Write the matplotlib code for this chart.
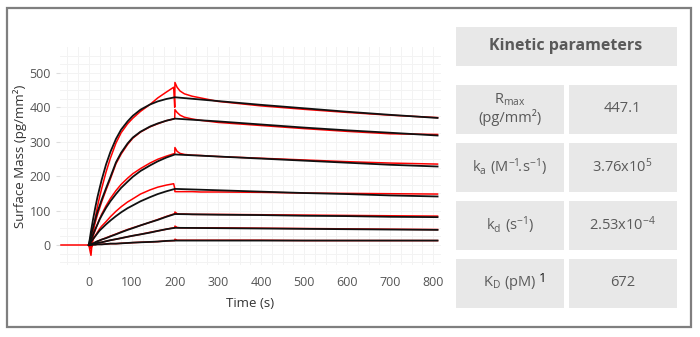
import matplotlib
matplotlib.use('Agg')
import matplotlib.pyplot as plt
from matplotlib.patches import Rectangle
import numpy as np

plt.rcParams['font.family'] = ['Open Sans', 'DejaVu Sans']
plt.rcParams['mathtext.fontset'] = 'custom'
plt.rcParams['mathtext.rm'] = 'Open Sans'
plt.rcParams['mathtext.it'] = 'Open Sans'

# fitted curves (black)
fit_t = [0, 5, 10, 15, 20, 25, 30, 40, 50, 63, 75, 90, 102, 120, 142, 160, 180, 200,
         300, 400, 500, 600, 700, 810]
fit_1 = [0, 40, 76, 109, 139, 165, 190, 234, 270, 308, 335, 359, 375, 393, 408, 417, 424, 429,
         418, 407, 397, 387, 378, 369]
fit_2 = [0, 27, 52, 75, 96, 114, 132, 165, 197, 240, 268, 295, 312, 329, 344, 353, 361, 367,
         359, 350, 341, 333, 326, 318]
fit_3 = [0, 16, 31, 46, 60, 74, 86, 108, 127, 148, 166, 184, 198, 215, 231, 243, 254, 263,
         257, 251, 245, 239, 233, 228]
fit_4 = [0, 9, 18, 26, 34, 42, 48, 60, 71, 84, 95, 107, 115, 127, 139, 148, 156, 163,
         159, 155, 151, 148, 144, 141]
fit_5 = [0, 3, 5, 8, 11, 13, 16, 20, 25, 31, 37, 44, 49, 57, 66, 73, 82, 90,
         88, 87, 85, 84, 82, 81]
fit_6 = [0, 1, 3, 4, 6, 7, 8, 11, 14, 17, 20, 24, 27, 31, 36, 41, 46, 50,
         49, 48, 47, 46, 45, 44]
fit_7 = [0, 0, 1, 1, 2, 2, 2, 3, 4, 4, 5, 6, 7, 8, 9, 10, 12, 13,
         13, 13, 13, 13, 13, 13]
fits = [fit_1, fit_2, fit_3, fit_4, fit_5, fit_6, fit_7]

# measured curves (red)
red_t = [0, 5, 10, 15, 20, 25, 30, 40, 50, 63, 75, 90, 102, 120, 142, 160, 180, 197,
         199.5, 200, 205, 212, 222, 240, 260, 300, 400, 500, 600, 700, 810]
red_1 = [0, -30, 40, 80, 112, 140, 165, 212, 252, 296, 326, 352, 368, 388, 408, 427, 444, 458,
         400, 472, 458, 447, 439, 432, 427, 417, 404, 394, 385, 377, 370]
red_2 = [0, -8, 40, 66, 88, 107, 126, 160, 192, 236, 264, 292, 310, 328, 343, 352, 361, 366,
         368, 393, 385, 377, 371, 366, 362, 356, 347, 338, 330, 323, 321]
red_3 = [0, -10, 26, 44, 60, 76, 90, 114, 135, 158, 176, 194, 207, 222, 238, 249, 258, 265,
         265, 283, 272, 266, 263, 261, 260, 257, 252, 247, 242, 238, 235]
red_4 = [0, -10, 16, 26, 37, 47, 55, 68, 82, 98, 111, 125, 134, 148, 160, 168, 174, 178,
         165, 155, 155, 155, 155, 155, 154, 154, 153, 151, 150, 149, 148]
red_5 = [0, -8, 3, 8, 11, 14, 16, 21, 26, 32, 38, 45, 50, 57, 66, 74, 83, 90,
         90, 96, 91, 90, 90, 89, 89, 89, 88, 87, 86, 85, 84]
red_6 = [0, -6, 2, 4, 6, 7, 8, 11, 14, 17, 20, 24, 27, 31, 37, 41, 46, 50,
         50, 55, 51, 50, 50, 50, 50, 50, 49, 48, 47, 46, 45]
red_7 = [0, -4, 1, 1, 2, 2, 2, 3, 4, 4, 5, 6, 7, 8, 9, 10, 12, 13,
         13, 17, 14, 14, 14, 14, 14, 14, 14, 13, 13, 13, 13]
reds = [red_1, red_2, red_3, red_4, red_5, red_6, red_7]
baseline_t = [-65, 0]
baseline_v = [0, 0]

x_ticks = [0, 100, 200, 300, 400, 500, 600, 700, 800]
y_ticks = [0, 100, 200, 300, 400, 500]

table_title = 'Kinetic parameters'
param_names = [r'$\mathregular{R_{max}}$' + '\n(pg/mm²)',
               r'$\mathregular{k_a\ (M^{-1}\!.\!s^{-1})}$',
               r'$\mathregular{k_d\ (s^{-1})}$',
               r'$\mathregular{K_D\ (pM)}$']
param_values = ['447.1', r'$\mathregular{3.76x10^5}$',
                r'$\mathregular{2.53x10^{-4}}$', '672']

fig = plt.figure(figsize=(7, 3.37), dpi=100)

# overlay for frame and table, in pixel coords
bg = fig.add_axes([0, 0, 1, 1])
bg.set_xlim(0, 700)
bg.set_ylim(337, 0)
bg.axis('off')
bg.add_patch(Rectangle((7, 8), 684, 319, fill=False, ec='#7f7f7f', lw=1.6))

cell = '#e8e8e8'
txt = '#5a5a5a'
bg.add_patch(Rectangle((456, 27), 221, 39, fc=cell, ec='none'))
bg.text(566, 46.5, table_title, ha='center', va='center', fontsize=11.5,
        fontweight='bold', color=txt)
row_tops = [85, 143, 201, 259]
for i, top in enumerate(row_tops):
    bg.add_patch(Rectangle((456, top), 108, 48.5, fc=cell, ec='none'))
    bg.add_patch(Rectangle((568.5, top), 108, 48.5, fc=cell, ec='none'))
    bg.text(510, top + 24, param_names[i], ha='center', va='center',
            fontsize=10.5, color=txt, linespacing=1.1)
    bg.text(622.5, top + 24, param_values[i], ha='center', va='center',
            fontsize=10.5, color=txt)
bg.text(539, 278, '1', ha='left', va='center', fontsize=9.5, color='#111111')

ax = fig.add_axes([0.0857, 0.2136, 0.5443, 0.647])
ax.set_xlim(-67, 818)
ax.set_ylim(-58, 575)
ax.set_xticks(x_ticks)
ax.set_yticks(y_ticks)
ax.set_xticks(np.arange(-50, 818, 25), minor=True)
ax.set_yticks(np.arange(-50, 575, 25), minor=True)
ax.grid(True, which='both', color='#f3f3f3', lw=0.7)
ax.set_axisbelow(True)
for s in ax.spines.values():
    s.set_visible(False)
ax.tick_params(axis='both', which='major', labelsize=9, labelcolor='#555555',
               color='#dddddd', length=3)
ax.tick_params(axis='x', which='major', length=0, pad=8)
ax.tick_params(axis='both', which='minor', length=0)

ax.plot(baseline_t, baseline_v, color='red', lw=1.1)
for r in reds:
    ax.plot(red_t, r, color='red', lw=1.1)
for f in fits:
    ax.plot(fit_t, f, color='#111111', lw=1.3)

ax.set_xlabel('Time (s)', fontsize=9.5, color='#333333', labelpad=6)
ax.set_ylabel('Surface Mass (pg/mm²)', fontsize=9.5, color='#333333', labelpad=2)

fig.savefig('out.png', dpi=100)
